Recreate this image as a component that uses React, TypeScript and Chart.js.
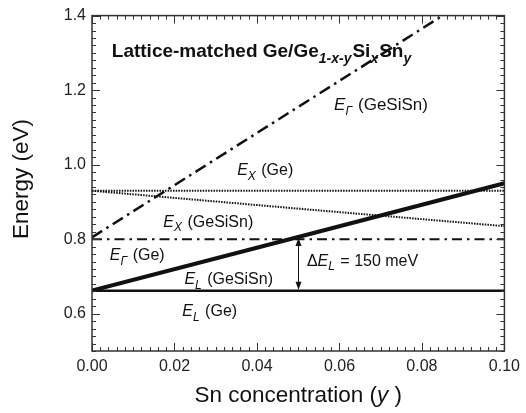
import React, { useEffect, useRef } from 'react';
import { Chart, registerables } from 'chart.js';
Chart.register(...registerables);

// ---- data ----
const snConc = [0, 0.05, 0.1];
const eGammaGeSiSn = [0.805, 1.155, 1.505];
const eGammaGe = [0.8, 0.8, 0.8];
const eXGe = [0.93, 0.93, 0.93];
const eXGeSiSn = [0.93, 0.882, 0.835];
const eLGeSiSn = [0.662, 0.806, 0.95];
const eLGe = [0.662, 0.662, 0.662];
const xTicks = [0, 0.02, 0.04, 0.06, 0.08, 0.1];
const yTicks = [0.6, 0.8, 1.0, 1.2, 1.4];
const arrowX = 0.05;

type Part = { t: string; i?: boolean; b?: boolean; sub?: boolean };
type Label = { parts: Part[]; x: number; y: number; size: number };

const labels: Label[] = [
  { parts: [{ t: 'E', i: true }, { t: 'Γ', i: true, sub: true }, { t: ' (GeSiSn)' }], x: 0.0587, y: 1.162, size: 17 },
  { parts: [{ t: 'E', i: true }, { t: 'X', i: true, sub: true }, { t: ' (Ge)' }], x: 0.0352, y: 0.987, size: 16 },
  { parts: [{ t: 'E', i: true }, { t: 'X', i: true, sub: true }, { t: ' (GeSiSn)' }], x: 0.0173, y: 0.849, size: 16 },
  { parts: [{ t: 'E', i: true }, { t: 'Γ', i: true, sub: true }, { t: ' (Ge)' }], x: 0.0043, y: 0.76, size: 16 },
  { parts: [{ t: 'E', i: true }, { t: 'L', i: true, sub: true }, { t: ' (GeSiSn)' }], x: 0.0224, y: 0.695, size: 16 },
  { parts: [{ t: 'ΔE', i: false }, { t: 'L', i: true, sub: true }, { t: ' = 150 meV' }], x: 0.0521, y: 0.744, size: 16 },
  { parts: [{ t: 'E', i: true }, { t: 'L', i: true, sub: true }, { t: ' (Ge)' }], x: 0.0219, y: 0.609, size: 16 },
  {
    parts: [
      { t: 'Lattice-matched Ge/Ge', b: true },
      { t: '1-x-y', b: true, i: true, sub: true },
      { t: 'Si', b: true },
      { t: 'x', b: true, i: true, sub: true },
      { t: 'Sn', b: true },
      { t: 'y', b: true, i: true, sub: true },
    ],
    x: 0.0048,
    y: 1.306,
    size: 19,
  },
];

const FONT = '"Liberation Sans", Arial, Helvetica, sans-serif';

function drawParts(ctx: CanvasRenderingContext2D, parts: Part[], x: number, cy: number, size: number) {
  let cx = x;
  const base = cy + size * 0.35;
  ctx.textBaseline = 'alphabetic';
  ctx.textAlign = 'left';
  for (const p of parts) {
    const s = p.sub ? Math.round(size * 0.72) : size;
    ctx.font = `${p.i ? 'italic ' : ''}${p.b ? 'bold ' : ''}${s}px ${FONT}`;
    if (p.t === 'ΔE') {
      ctx.font = `${s}px ${FONT}`;
      ctx.fillText('Δ', cx, base);
      cx += ctx.measureText('Δ').width;
      ctx.font = `italic ${s}px ${FONT}`;
      ctx.fillText('E', cx, base);
      cx += ctx.measureText('E').width;
      continue;
    }
    const dy = p.sub ? size * 0.3 : 0;
    ctx.fillText(p.t, cx, base + dy);
    cx += ctx.measureText(p.t).width + (p.sub ? 1 : 0);
  }
}

const decorPlugin = {
  id: 'decor',
  afterDraw(chart: any) {
    const { ctx, chartArea: a, scales } = chart;
    const xs = scales.x;
    const ys = scales.y;
    ctx.save();
    ctx.strokeStyle = '#333';
    ctx.lineWidth = 1;
    for (let i = 0; i <= 50; i++) {
      const px = Math.round(xs.getPixelForValue(i * 0.002)) + 0.5;
      const len = i % 10 === 0 ? 8 : 4;
      ctx.beginPath();
      ctx.moveTo(px, a.bottom);
      ctx.lineTo(px, a.bottom - len);
      ctx.moveTo(px, a.top);
      ctx.lineTo(px, a.top + len);
      ctx.stroke();
    }
    for (let i = 0; i <= 45; i++) {
      const py = Math.round(ys.getPixelForValue(0.5 + i * 0.02)) + 0.5;
      const len = (i - 5) % 10 === 0 ? 8 : 4;
      ctx.beginPath();
      ctx.moveTo(a.left, py);
      ctx.lineTo(a.left + len, py);
      ctx.moveTo(a.right, py);
      ctx.lineTo(a.right - len, py);
      ctx.stroke();
    }
    ctx.lineWidth = 1.5;
    ctx.strokeStyle = '#333';
    ctx.strokeRect(a.left, a.top, a.right - a.left, a.bottom - a.top);

    // arrow
    const ax = Math.round(xs.getPixelForValue(arrowX)) + 0.5;
    const y0 = ys.getPixelForValue(eLGe[1]);
    const y1 = ys.getPixelForValue(eLGeSiSn[1]);
    ctx.strokeStyle = '#111';
    ctx.fillStyle = '#111';
    ctx.lineWidth = 1;
    ctx.beginPath();
    ctx.moveTo(ax, y0 - 2);
    ctx.lineTo(ax, y1 + 2);
    ctx.stroke();
    const head = (tipY: number, dir: number) => {
      ctx.beginPath();
      ctx.moveTo(ax, tipY);
      ctx.lineTo(ax - 3, tipY + dir * 8);
      ctx.lineTo(ax + 3, tipY + dir * 8);
      ctx.closePath();
      ctx.fill();
    };
    head(y1 + 1, 1);
    head(y0 - 1, -1);

    ctx.fillStyle = '#111';
    for (const l of labels) {
      drawParts(ctx, l.parts, xs.getPixelForValue(l.x), ys.getPixelForValue(l.y), l.size);
    }

    const tsize = 22.5;
    const xParts: Part[] = [{ t: 'Sn concentration (' }, { t: 'y', i: true }, { t: ' )' }];
    let w = 0;
    for (const p of xParts) {
      ctx.font = `${p.i ? 'italic ' : ''}${tsize}px ${FONT}`;
      w += ctx.measureText(p.t).width;
    }
    drawParts(ctx, xParts, (a.left + a.right) / 2 - w / 2, 394, tsize);

    ctx.translate(22, 179);
    ctx.rotate(-Math.PI / 2);
    ctx.font = `${tsize}px ${FONT}`;
    ctx.textAlign = 'center';
    ctx.textBaseline = 'middle';
    ctx.fillText('Energy (eV)', 0, 0);
    ctx.restore();
  },
};

function mk(label: string, ys: number[], width: number, dash: number[]) {
  return {
    label,
    data: snConc.map((x, i) => ({ x, y: ys[i] })),
    showLine: true,
    borderColor: '#111',
    backgroundColor: '#111',
    borderWidth: width,
    borderDash: dash,
    pointRadius: 0,
    fill: false,
  };
}

export default function App() {
  const ref = useRef<HTMLCanvasElement>(null);
  useEffect(() => {
    document.body.style.margin = '0';
    const c = new Chart(ref.current!, {
      type: 'scatter',
      data: {
        datasets: [
          mk('E_Gamma GeSiSn', eGammaGeSiSn, 2.5, [12, 5, 2.5, 5]),
          mk('E_Gamma Ge', eGammaGe, 2, [10, 5, 2.5, 5]),
          mk('E_X Ge', eXGe, 2, [1.5, 1.2]),
          mk('E_X GeSiSn', eXGeSiSn, 2, [1.5, 1.2]),
          mk('E_L GeSiSn', eLGeSiSn, 4, []),
          mk('E_L Ge', eLGe, 2.5, []),
        ],
      },
      options: {
        animation: false,
        responsive: false,
        layout: { padding: { left: 0, right: 20, top: 15, bottom: 0 } },
        plugins: { legend: { display: false }, tooltip: { enabled: false } },
        scales: {
          x: {
            type: 'linear',
            min: 0,
            max: 0.1,
            afterFit: (s: any) => {
              s.height = 62;
            },
            afterBuildTicks: (s: any) => {
              s.ticks = xTicks.map((v) => ({ value: v }));
            },
            grid: { display: false, drawTicks: false },
            border: { display: false },
            ticks: {
              padding: 6,
              color: '#222',
              font: { size: 16, family: FONT },
              callback: (v: any) => Number(v).toFixed(2),
            },
          },
          y: {
            type: 'linear',
            min: 0.5,
            max: 1.4,
            afterFit: (s: any) => {
              s.width = 92;
            },
            afterBuildTicks: (s: any) => {
              s.ticks = yTicks.map((v) => ({ value: v }));
            },
            grid: { display: false, drawTicks: false },
            border: { display: false },
            ticks: {
              padding: 6,
              color: '#222',
              font: { size: 16, family: FONT },
              callback: (v: any) => Number(v).toFixed(1),
            },
          },
        },
      },
      plugins: [decorPlugin],
    });
    return () => c.destroy();
  }, []);
  return <canvas ref={ref} width={526} height={413} style={{ display: 'block', width: 526, height: 413 }} />;
}
